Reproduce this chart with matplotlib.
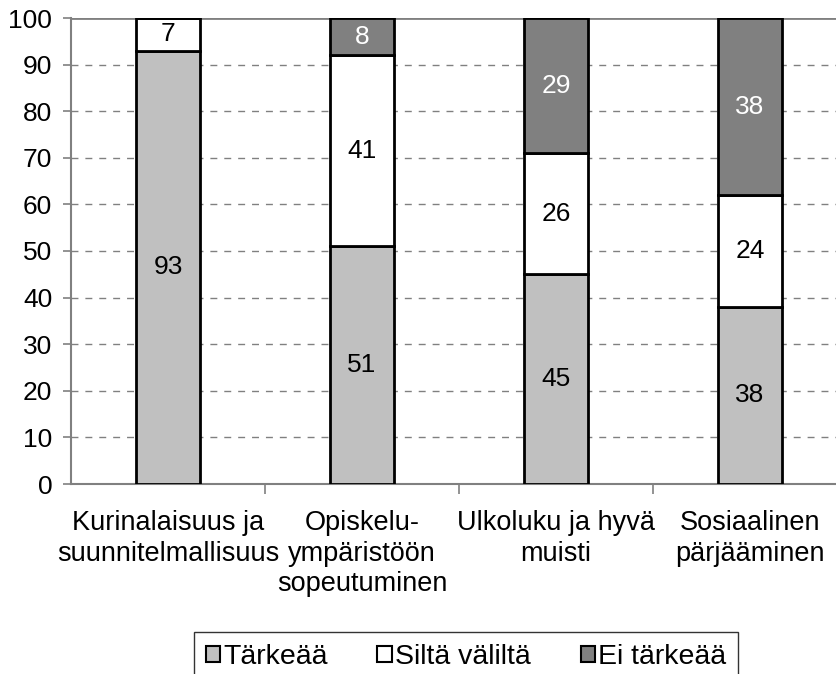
import numpy as np
import matplotlib
matplotlib.use("Agg")
import matplotlib.pyplot as plt

plt.rcParams['font.family'] = ['Liberation Sans', 'DejaVu Sans']

categories = ["Kurinalaisuus ja\nsuunnitelmallisuus",
              "Opiskelu-\nympäristöön\nsopeutuminen",
              "Ulkoluku ja hyvä\nmuisti",
              "Sosiaalinen\npärjääminen"]
tarkeaa = [93, 51, 45, 38]
silta = [7, 41, 26, 24]
ei_tarkeaa = [0, 8, 29, 38]
series_names = ["Tärkeää", "Siltä väliltä", "Ei tärkeää"]
colors = ["#c0c0c0", "#ffffff", "#808080"]
text_colors = ["black", "black", "white"]

W, H = 837, 674
fig = plt.figure(figsize=(W / 100, H / 100), dpi=100)
ax = fig.add_axes([71 / W, 1 - 484 / H, (847 - 71) / W, (484 - 18) / H])

x = np.arange(len(categories))
bottom = np.zeros(len(categories))
handles = []
for vals, col, tc, name in zip([tarkeaa, silta, ei_tarkeaa], colors, text_colors, series_names):
    vals = np.array(vals)
    bars = ax.bar(x, vals, width=0.335, bottom=bottom, color=col,
                  edgecolor="black", linewidth=2, zorder=3, label=name)
    handles.append(bars)
    for xi, v, b in zip(x, vals, bottom):
        if v > 0:
            ax.text(xi, b + v / 2, str(v), ha="center", va="center",
                    fontsize=19, color=tc, zorder=4)
    bottom += vals

ax.set_xlim(-0.5, len(categories) - 0.5)
ax.set_ylim(0, 100)
ax.set_yticks(range(0, 101, 10))
ax.tick_params(axis="y", labelsize=19, direction="out", length=6, color="#808080", width=1.2, pad=7.5)

ax.set_xticks(x)
ax.set_xticklabels(categories, fontsize=19.5, linespacing=1.22)
ax.tick_params(axis="x", length=0, pad=19)
ax.set_xticks(np.arange(0.5, len(categories) - 0.5, 1), minor=True)
ax.tick_params(axis="x", which="minor", length=7, direction="out", color="#808080", width=1.2)

for yv in range(10, 100, 10):
    ax.axhline(yv, color="#808080", linestyle=(0, (5, 5)), linewidth=1, zorder=1)
ax.axhline(100, color="#808080", linewidth=2, zorder=1)

for s in ["top", "right"]:
    ax.spines[s].set_visible(False)
for s in ["left", "bottom"]:
    ax.spines[s].set_color("#808080")
    ax.spines[s].set_linewidth(1.5)

leg = fig.legend(handles=handles, loc="upper center", bbox_to_anchor=(466 / W, 1 - 632 / H),
                 ncol=3, fontsize=20.5, frameon=True, fancybox=False, edgecolor="black",
                 handlelength=0.5, handleheight=0.5, handletextpad=0.12, columnspacing=1.75,
                 borderpad=0.42, borderaxespad=0)
leg.get_frame().set_linewidth(1)
for p in leg.legend_handles:
    p.set_linewidth(1.5)

fig.savefig("out.png", dpi=100)
